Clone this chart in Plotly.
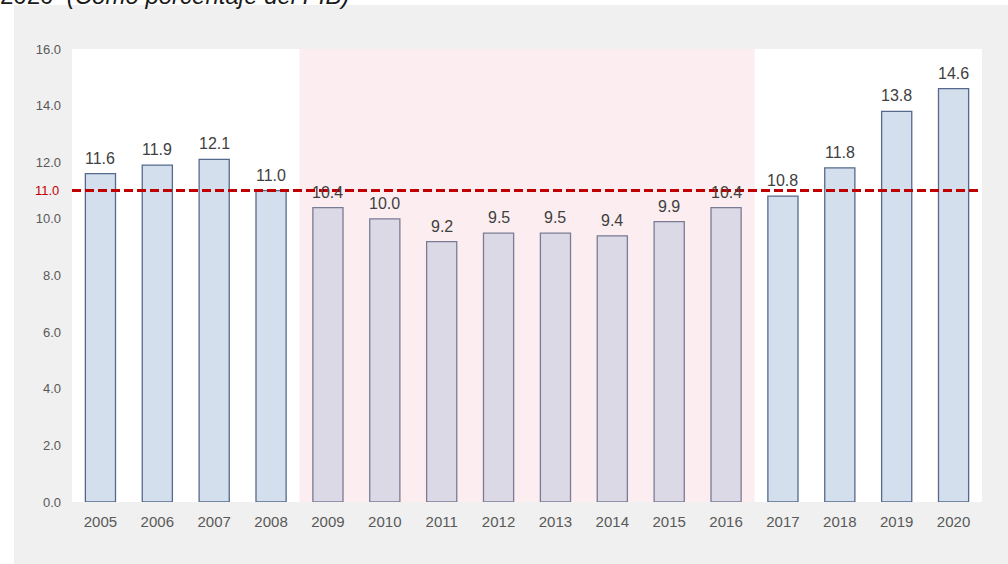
import plotly.graph_objects as go

years = ["2005", "2006", "2007", "2008", "2009", "2010", "2011", "2012",
         "2013", "2014", "2015", "2016", "2017", "2018", "2019", "2020"]
values = [11.6, 11.9, 12.1, 11.0, 10.4, 10.0, 9.2, 9.5,
          9.5, 9.4, 9.9, 10.4, 10.8, 11.8, 13.8, 14.6]
reference_value = 11.0
shaded_start = "2009"
shaded_end = "2016"
y_ticks = [0, 2, 4, 6, 8, 10, 12, 14, 16]

W, H = 1008, 564
L, R, T, B = 72, 26, 49, 62
pw, ph = W - L - R, H - T - B

def px_x(p):
    return (p - L) / pw

def px_y(p):
    return (H - B - p) / ph

i0, i1 = years.index(shaded_start), years.index(shaded_end)
in_band = [i0 <= i <= i1 for i in range(len(years))]
fills = ["#DCD9E6" if b else "#D3DFEC" for b in in_band]
lines = ["#7A7B95" if b else "#56698C" for b in in_band]

fig = go.Figure()
fig.add_trace(go.Bar(
    x=years, y=values,
    marker=dict(color=fills, line=dict(color=lines, width=1.3)),
    hoverinfo="x+y",
))

shapes = [
    dict(type="rect", xref="paper", yref="paper", x0=px_x(14), x1=px_x(W + 5),
         y0=px_y(H + 5), y1=px_y(5), fillcolor="#F0F0F0", line_width=0, layer="below"),
    dict(type="rect", xref="paper", yref="paper", x0=0, x1=1, y0=0, y1=1,
         fillcolor="#FFFFFF", line_width=0, layer="below"),
    dict(type="rect", xref="x", yref="paper", x0=i0 - 0.5, x1=i1 + 0.5, y0=0, y1=1,
         fillcolor="#FCEEF0", line_width=0, layer="below"),
    dict(type="line", xref="paper", yref="y", x0=0, x1=1, y0=reference_value,
         y1=reference_value, line=dict(color="#C00000", width=3, dash="9px,4px"),
         layer="above"),
]

annotations = [
    dict(xref="x", yref="y", x=i, y=v, text=f"{v:.1f}", showarrow=False,
         yanchor="bottom", yshift=5,
         font=dict(family="Liberation Sans, Arial", size=16, color="#404040"))
    for i, v in enumerate(values)
]
annotations += [
    dict(xref="paper", yref="y", x=0, y=reference_value, xanchor="right",
         xshift=-11, text=f"{reference_value:.1f}", showarrow=False,
         font=dict(family="Liberation Sans, Arial", size=13, color="#C00000")),
    dict(xref="paper", yref="paper", x=px_x(-2), y=px_y(11), xanchor="left",
         yanchor="bottom", showarrow=False,
         text="2020  <i>(Como porcentaje del PIB)</i>",
         font=dict(family="Liberation Sans, Arial", size=24, color="#1A1A1A")),
]

tickvals = [v for v in y_ticks if abs(v - reference_value) > 0.5]

fig.update_layout(
    width=W, height=H,
    margin=dict(l=L, r=R, t=T, b=B),
    paper_bgcolor="#FFFFFF", plot_bgcolor="#FFFFFF",
    bargap=0.47, showlegend=False,
    shapes=shapes, annotations=annotations,
    xaxis=dict(type="category", range=[-0.5, len(years) - 0.5],
               showgrid=False, zeroline=False, showline=False,
               ticks="", ticklabelstandoff=9,
               tickfont=dict(family="Liberation Sans, Arial", size=15,
                             color="#595959")),
    yaxis=dict(range=[0, 16], tickvals=tickvals, ticktext=[f"{v:.1f}" for v in tickvals],
               showgrid=False, zeroline=False, showline=False, ticks="",
               ticklabelstandoff=10,
               tickfont=dict(family="Liberation Sans, Arial", size=13, color="#595959")),
)
fig.write_html("out.html", config={"displayModeBar": False},
               post_script="document.body.style.margin='0';document.body.style.overflow='hidden';")
